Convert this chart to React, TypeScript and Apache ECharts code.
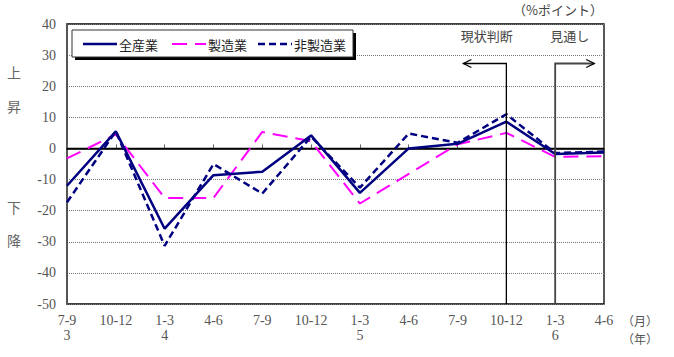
import React, { useEffect, useRef } from "react";
import * as echarts from "echarts";

const months = ["7-9", "10-12", "1-3", "4-6", "7-9", "10-12", "1-3", "4-6", "7-9", "10-12", "1-3", "4-6"];
const years = ["3", "", "4", "", "", "", "5", "", "", "", "6", ""];
const yTicks = { min: -50, max: 40, interval: 10 };

const allIndustries = [-12, 5.5, -25.8, -8.6, -7.5, 4.2, -14.3, 0, 1.5, 8.6, -1.8, -1.3];
const manufacturing = [-3.2, 4.5, -15.9, -15.9, 5.3, 2.3, -17.7, -8.2, 1.3, 5, -2.7, -2.5];
const nonManufacturing = [-17.3, 5.5, -31.3, -5, -14.5, 3.8, -12.6, 4.8, 1.8, 11, -1.5, -1];

const seriesNames = ["全産業", "製造業", "非製造業"];
const seriesColors = ["#000080", "#FF00FF", "#000080"];
const seriesWidths = [2.5, 2, 2.5];
const seriesDashes: (number[] | null)[] = [null, [15, 8], [7, 4]];
const currentIdx = 9; // 10-12 : 現状判断
const outlookIdx = 10; // 1-3 (6) : 見通し

const serif = "'Liberation Serif', 'Noto Sans CJK JP', serif";
const cjk = "'Noto Sans CJK JP', sans-serif";

export default function App() {
  const ref = useRef<HTMLDivElement>(null);
  useEffect(() => {
    if (!ref.current) return;
    const chart = echarts.init(ref.current, null, { renderer: "svg" });
    const dataSets = [allIndustries, manufacturing, nonManufacturing];
    const option: any = {
      animation: false,
      grid: { left: 67, right: 70, top: 24, bottom: 53, show: true, borderColor: "#000", borderWidth: 1.3, backgroundColor: "transparent" },
      xAxis: {
        type: "category",
        data: months,
        boundaryGap: false,
        axisLine: { lineStyle: { color: "#000", width: 1.5 } },
        axisTick: { show: true, inside: true, length: 4, lineStyle: { color: "#666" } },
        axisLabel: {
          interval: 0,
          margin: 9,
          color: "#555",
          fontFamily: serif,
          fontSize: 14,
          lineHeight: 15,
          formatter: (v: string, i: number) => (years[i] ? v + "\n" + years[i] : v),
        },
        splitLine: { show: false },
      },
      yAxis: {
        type: "value",
        min: yTicks.min,
        max: yTicks.max,
        interval: yTicks.interval,
        axisLine: { show: true, lineStyle: { color: "#555", width: 2 } },
        axisTick: { show: false },
        axisLabel: { margin: 11, color: "#555", fontFamily: serif, fontSize: 14 },
        splitLine: { show: true, lineStyle: { color: "#777", type: "dotted", width: 1 } },
      },
      series: seriesNames.map((name, k) => ({
        name,
        type: "line",
        data: dataSets[k],
        symbol: "none",
        z: k === 0 ? 4 : 3,
        lineStyle: { color: seriesColors[k], width: seriesWidths[k], type: seriesDashes[k] || "solid" },
        itemStyle: { color: seriesColors[k] },
        ...(k === 0
          ? {
              markLine: {
                silent: true,
                symbol: "none",
                label: { show: false },
                lineStyle: { color: "#000", width: 1.3, type: "solid" },
                data: [{ yAxis: 0 }],
                z: 1,
              },
            }
          : {}),
      })),
    };
    chart.setOption(option);

    const px = (i: number, v: number) => chart.convertToPixel({ gridIndex: 0 }, [i, v]) as number[];
    const step = px(1, 0)[0] - px(0, 0)[0];
    const arrowY = px(0, 27.3)[1];
    const bottomY = px(0, yTicks.min)[1];
    const cx = px(currentIdx, 0)[0];
    const ox = px(outlookIdx, 0)[0];
    const labelY = px(0, 36.3)[1];
    const leftTip = cx - step * 0.88;
    const rightTip = ox + step * 0.8;

    // legend (drawn by hand so the icons keep the dash patterns)
    const legendStarts = [83, 172, 258];
    const legendY = 44;
    const legendEls: any[] = [];
    seriesNames.forEach((name, k) => {
      const x0 = legendStarts[k];
      legendEls.push({
        type: "line",
        z: 12,
        shape: { x1: x0, y1: legendY, x2: x0 + 34, y2: legendY },
        style: { stroke: seriesColors[k], lineWidth: seriesWidths[k], lineDash: seriesDashes[k] || undefined },
      });
      legendEls.push({
        type: "text",
        z: 12,
        x: x0 + 36,
        y: legendY,
        style: { text: name, font: `13px ${cjk}`, fill: "#222", verticalAlign: "middle" },
      });
    });

    chart.setOption({
      graphic: [
        { type: "rect", z: 10, shape: { x: 75, y: 33, width: 281, height: 27 }, style: { fill: "#000" } },
        { type: "rect", z: 11, shape: { x: 72, y: 30, width: 281, height: 27 }, style: { fill: "#fff", stroke: "#333", lineWidth: 1 } },
        ...legendEls,
        { type: "polyline", z: 5, shape: { points: [[cx, bottomY], [cx, arrowY], [leftTip, arrowY]] }, style: { stroke: "#000", lineWidth: 1.3, fill: "none" } },
        { type: "polyline", z: 5, shape: { points: [[leftTip + 8, arrowY - 4], [leftTip, arrowY], [leftTip + 8, arrowY + 4]] }, style: { stroke: "#000", lineWidth: 1.3, fill: "none" } },
        { type: "polyline", z: 5, shape: { points: [[ox, bottomY], [ox, arrowY], [rightTip, arrowY]] }, style: { stroke: "#444", lineWidth: 1.8, fill: "none" } },
        { type: "polyline", z: 5, shape: { points: [[rightTip - 8, arrowY - 4], [rightTip, arrowY], [rightTip - 8, arrowY + 4]] }, style: { stroke: "#000", lineWidth: 1.3, fill: "none" } },
        { type: "text", z: 6, x: cx - step * 0.4, y: labelY, style: { text: "現状判断", font: `13px ${cjk}`, fill: "#444", align: "center", verticalAlign: "middle" } },
        { type: "text", z: 6, x: ox + step * 0.3, y: labelY, style: { text: "見通し", font: `13px ${cjk}`, fill: "#444", align: "center", verticalAlign: "middle" } },
        { type: "text", z: 6, x: 558, y: 9, style: { text: "（%ポイント）", font: `13px ${cjk}`, fill: "#444", align: "center", verticalAlign: "middle" } },
        { type: "text", z: 6, x: 640, y: 320, style: { text: "（月）", font: `12px ${cjk}`, lineHeight: 14, fill: "#555", align: "center", verticalAlign: "middle" } },
        { type: "text", z: 6, x: 640, y: 338, style: { text: "（年）", font: `12px ${cjk}`, lineHeight: 14, fill: "#555", align: "center", verticalAlign: "middle" } },
        { type: "text", z: 6, x: 14, y: 72, style: { text: "上", font: `14px ${cjk}`, fill: "#666", align: "center", verticalAlign: "middle" } },
        { type: "text", z: 6, x: 14, y: 106, style: { text: "昇", font: `14px ${cjk}`, fill: "#666", align: "center", verticalAlign: "middle" } },
        { type: "text", z: 6, x: 14, y: 207, style: { text: "下", font: `14px ${cjk}`, fill: "#666", align: "center", verticalAlign: "middle" } },
        { type: "text", z: 6, x: 14, y: 240, style: { text: "降", font: `14px ${cjk}`, fill: "#666", align: "center", verticalAlign: "middle" } },
      ],
    });
    return () => chart.dispose();
  }, []);
  return <div ref={ref} style={{ position: "fixed", left: 0, top: 0, width: 674, height: 357, background: "#fff" }} />;
}
